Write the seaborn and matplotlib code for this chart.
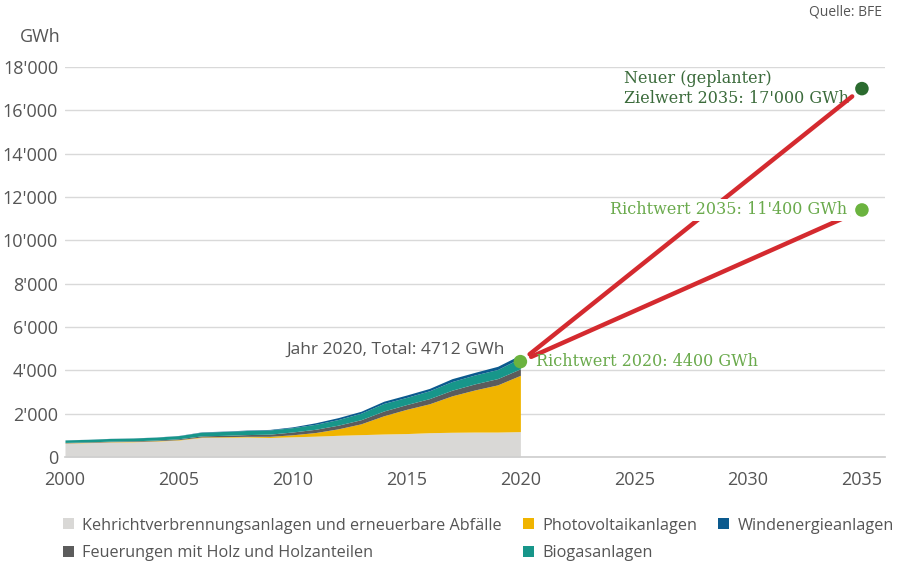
import matplotlib
matplotlib.use("Agg")
import matplotlib.pyplot as plt
import matplotlib.ticker as mticker
from matplotlib.patches import Patch
import seaborn as sns
import pandas as pd

# ---------------- data ----------------
years = list(range(2000, 2021))
kva = [640, 660, 690, 700, 730, 780, 900, 910, 920, 900, 930, 960, 1000, 1030, 1060, 1080, 1120, 1140, 1150, 1150, 1170]
pv = [11, 13, 15, 17, 19, 21, 24, 28, 33, 54, 94, 168, 299, 500, 842, 1119, 1333, 1683, 1944, 2178, 2599]
wood = [20, 22, 25, 28, 32, 40, 50, 60, 80, 100, 130, 150, 170, 190, 220, 220, 240, 260, 280, 290, 300]
biogas = [115, 120, 125, 130, 135, 145, 170, 180, 190, 195, 200, 230, 260, 300, 350, 330, 360, 400, 410, 420, 498]
wind = [3, 3, 5, 5, 6, 8, 15, 16, 19, 23, 37, 70, 88, 90, 101, 110, 109, 132, 122, 146, 145]

series_names = ["Kehrichtverbrennungsanlagen und erneuerbare Abfälle",
                "Photovoltaikanlagen",
                "Feuerungen mit Holz und Holzanteilen",
                "Biogasanlagen",
                "Windenergieanlagen"]
series_colors = ["#d9d8d6", "#f0b400", "#5c5c5c", "#17968a", "#0b5a8e"]

target_years = [2020, 2035, 2035]
target_values = [4400, 11400, 17000]
target_colors = ["#6bb33f", "#6bb33f", "#2b6b2f"]

x_ticks = [2000, 2005, 2010, 2015, 2020, 2025, 2030, 2035]
y_ticks = list(range(0, 18001, 2000))

total_2020 = 4712

# ---------------- style ----------------
sns.set_theme(style="white")
plt.rcParams["font.family"] = ["Open Sans", "DejaVu Sans"]

fig = plt.figure(figsize=(9, 5.65), dpi=100)
ax = fig.add_axes([0.0722, 0.1912, 0.9108, 0.6903])

TXT = "#555555"
GRID = "#d9d9d9"

# stacked areas
ax.stackplot(years, kva, pv, wood, biogas, wind, colors=series_colors,
             linewidth=0, zorder=2)

# axes
ax.set_xlim(2000, 2036)
ax.set_ylim(0, 18000)
ax.set_xticks(x_ticks)
ax.xaxis.set_minor_locator(mticker.MultipleLocator(1))
ax.set_yticks(y_ticks)
ax.yaxis.set_major_formatter(mticker.FuncFormatter(
    lambda v, p: "0" if v == 0 else f"{int(v):,}".replace(",", "'")))
ax.grid(axis="y", color=GRID, linewidth=1, zorder=0)
for s in ["top", "right", "left"]:
    ax.spines[s].set_visible(False)
ax.spines["bottom"].set_color("#cfcfcf")
ax.spines["bottom"].set_zorder(3)
ax.tick_params(axis="x", which="both", direction="in", colors="#c8c8c8",
               length=4, width=1, labelcolor=TXT, labelsize=13, pad=10)
ax.tick_params(axis="y", length=0, labelcolor=TXT, labelsize=13, pad=5)

# target lines (red connectors)
ax.annotate("", xy=(target_years[2], target_values[2]),
            xytext=(target_years[0], target_values[0]),
            arrowprops=dict(arrowstyle="-", color="#d42a2f", lw=3.2,
                            shrinkA=8.5, shrinkB=9), zorder=4)
ax.annotate("", xy=(target_years[1], target_values[1]),
            xytext=(target_years[0], target_values[0]),
            arrowprops=dict(arrowstyle="-", color="#d42a2f", lw=3.2,
                            shrinkA=8.5, shrinkB=11), zorder=4)

# target points
pts = pd.DataFrame({"Jahr": target_years, "GWh": target_values,
                    "c": ["a", "a", "b"]})
sns.scatterplot(data=pts, x="Jahr", y="GWh", hue="c",
                palette={"a": target_colors[0], "b": target_colors[2]},
                s=95, linewidth=0, legend=False, ax=ax, zorder=6, clip_on=False)
ax.set_xlabel("")
ax.set_ylabel("")

SERIF = ["DejaVu Serif"]
ax.text(2019.3, 4950, f"Jahr 2020, Total: {total_2020} GWh", ha="right",
        va="center", color=TXT, fontsize=12.5, zorder=5)
ax.text(2020.7, target_values[0], "Richtwert 2020: 4400 GWh", ha="left",
        va="center", color="#6aaa4c", fontsize=11.5, family=SERIF, zorder=5)
ax.text(2034.35, target_values[1], "Richtwert 2035: 11'400 GWh", ha="right",
        va="center", color="#6aaa4c", fontsize=11.5, family=SERIF, zorder=5,
        bbox=dict(facecolor="white", edgecolor="none", pad=2))
ax.text(2024.55, target_values[2], "Neuer (geplanter)\nZielwert 2035: 17'000 GWh",
        ha="left", va="center", color="#3b6b3b", fontsize=11.5, family=SERIF,
        linespacing=1.25, zorder=3)

# labels
fig.text(61 / 900, 1 - 37 / 565, "GWh", ha="right", va="center", color=TXT,
         fontsize=13)
fig.text(882 / 900, 1 - 12 / 565, "Quelle: BFE", ha="right", va="center",
         color=TXT, fontsize=10)

# legend
order = [0, 2, 1, 3, 4]
handles = [Patch(facecolor=series_colors[i], edgecolor="none") for i in order]
labels = [series_names[i] for i in order]
fig.legend(handles, labels, ncol=3, loc="upper left",
           bbox_to_anchor=(0.07, 0.084), frameon=False, fontsize=11.7,
           handlelength=0.68, handleheight=0.68, handletextpad=0.5,
           columnspacing=1.3, labelspacing=0.73, labelcolor=TXT,
           borderaxespad=0, borderpad=0)

fig.savefig("out.png", dpi=100)
